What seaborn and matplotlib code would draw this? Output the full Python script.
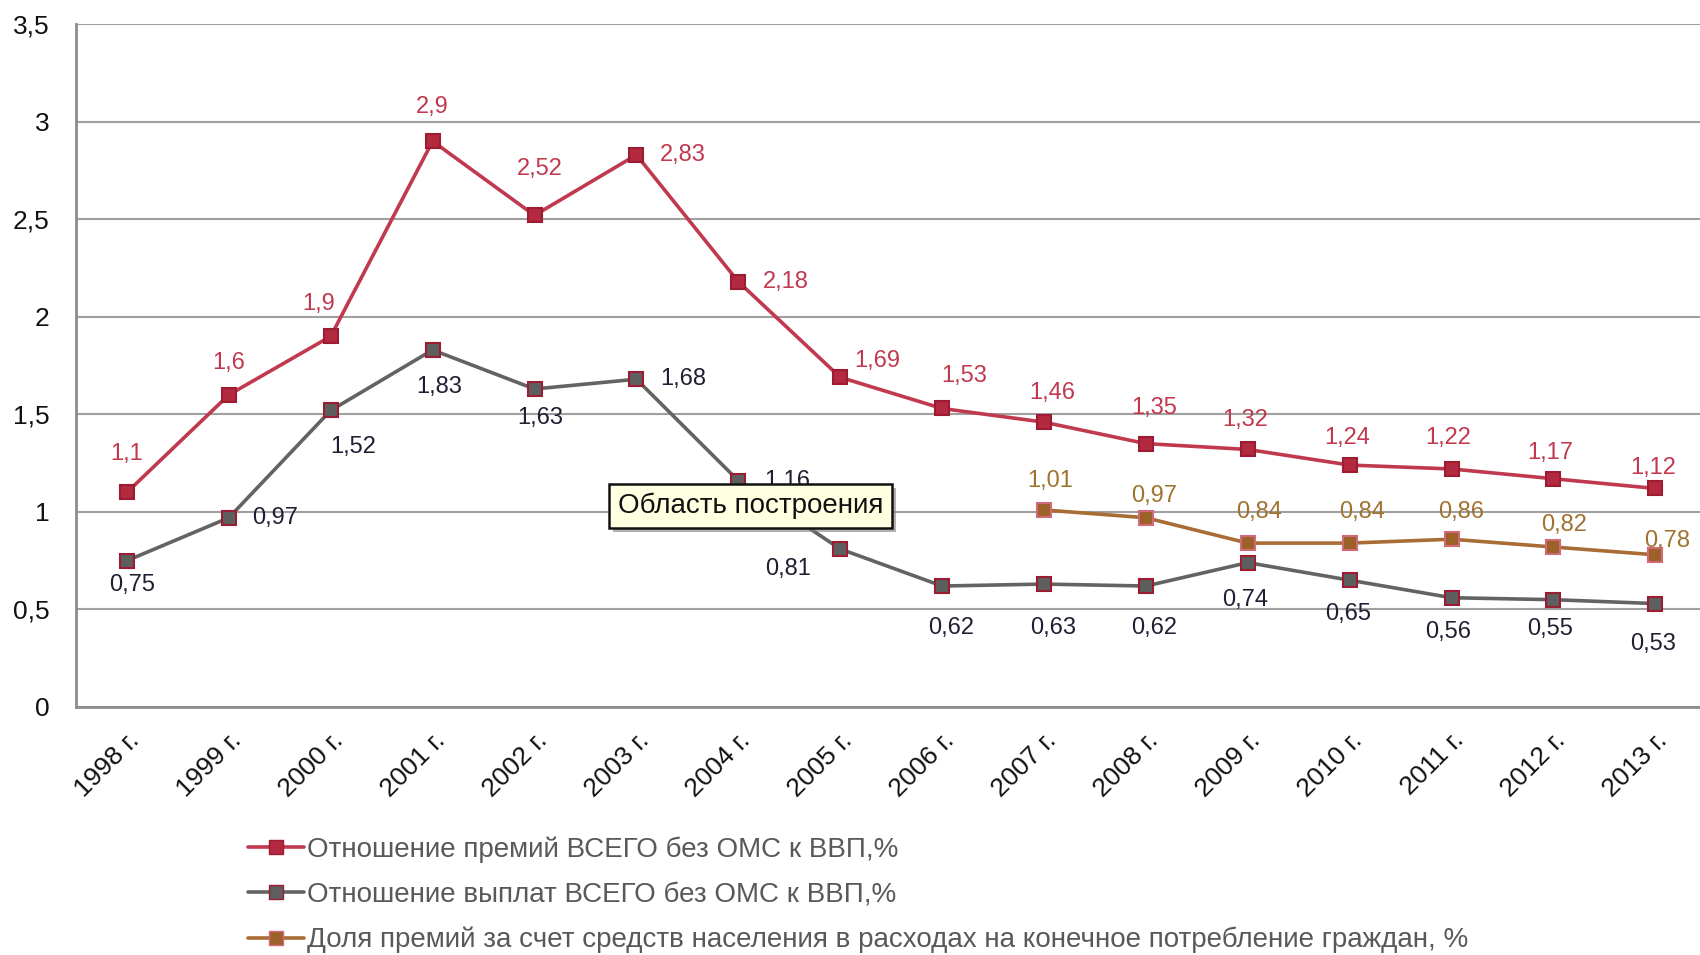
import matplotlib
matplotlib.use("Agg")
import matplotlib.pyplot as plt
import matplotlib.patheffects as pe
import seaborn as sns
import numpy as np
import pandas as pd
from matplotlib.lines import Line2D

# data
years = ["1998 г.", "1999 г.", "2000 г.", "2001 г.", "2002 г.", "2003 г.", "2004 г.", "2005 г.",
         "2006 г.", "2007 г.", "2008 г.", "2009 г.", "2010 г.", "2011 г.", "2012 г.", "2013 г."]
premiums = [1.1, 1.6, 1.9, 2.9, 2.52, 2.83, 2.18, 1.69, 1.53, 1.46, 1.35, 1.32, 1.24, 1.22, 1.17, 1.12]
payouts = [0.75, 0.97, 1.52, 1.83, 1.63, 1.68, 1.16, 0.81, 0.62, 0.63, 0.62, 0.74, 0.65, 0.56, 0.55, 0.53]
share_years = years[9:]
share = [1.01, 0.97, 0.84, 0.84, 0.86, 0.82, 0.78]

names = ["Отношение премий ВСЕГО без ОМС к ВВП,%",
         "Отношение выплат ВСЕГО без ОМС к ВВП,%",
         "Доля премий за счет средств населения в расходах на конечное потребление граждан, %"]
y_ticks = [0, 0.5, 1, 1.5, 2, 2.5, 3, 3.5]

# label offsets in pixels (dx, dy), screen up positive
off_prem = [(0, 38), (0, 32), (-12, 32), (0, 34), (5, 46), (46, 0), (48, 0), (37, 16), (22, 32),
            (8, 29), (8, 36), (-3, 29), (-2, 27), (-3, 31), (-3, 26), (-2, 20)]
off_pay = [(5, -24), (46, 0), (22, -37), (7, -37), (6, -29), (47, 0), (49, 0), (-52, -20), (9, -42),
           (9, -44), (8, -42), (-3, -37), (-2, -34), (-3, -34), (-3, -29), (-2, -40)]
off_share = [(6, 29), (8, 22), (11, 31), (12, 31), (10, 27), (11, 22), (12, 14)]

red_line, red_face, red_edge = "#c0394e", "#b32a40", "#9c1c31"
grey_line, grey_face = "#636363", "#5e5e5e"
brown_line, brown_face = "#a86c34", "#9c6129"
red_text, grey_text, brown_text = "#c0394e", "#1f1f33", "#a0722f"

sns.set_style("white")
plt.rcParams["font.family"] = ["Liberation Sans", "DejaVu Sans"]

fig = plt.figure(figsize=(17, 9.55), dpi=100)
ax = fig.add_axes([0.0447, 0.2597, 0.959, 0.715])

x_all = np.arange(len(years))
x_share = np.arange(9, 9 + len(share))

df = pd.DataFrame({"x": x_all, "prem": premiums, "pay": payouts})
df_s = pd.DataFrame({"x": x_share, "share": share})

sns.lineplot(data=df, x="x", y="prem", ax=ax, color=red_line, lw=2.6, marker="s", ms=10,
             markerfacecolor=red_face, markeredgecolor=red_edge, markeredgewidth=1.5, zorder=5)
sns.lineplot(data=df, x="x", y="pay", ax=ax, color=grey_line, lw=2.6, marker="s", ms=10,
             markerfacecolor=grey_face, markeredgecolor=red_edge, markeredgewidth=1.5, zorder=4)
sns.lineplot(data=df_s, x="x", y="share", ax=ax, color=brown_line, lw=2.6, marker="s", ms=10,
             markerfacecolor=brown_face, markeredgecolor="#d06a78", markeredgewidth=1.5, zorder=4)

def fmt(v):
    return ("%g" % v).replace(".", ",")

def put_labels(xs, vals, offs, col):
    for xi, v, (dx, dy) in zip(xs, vals, offs):
        ax.annotate(fmt(v), (xi, v), xytext=(dx * 0.72, dy * 0.72), textcoords="offset points",
                    ha="center", va="center", fontsize=17, color=col, zorder=6)

put_labels(x_all, premiums, off_prem, red_text)
put_labels(x_all, payouts, off_pay, grey_text)
put_labels(x_share, share, off_share, brown_text)

ax.set_xlim(-0.5, 15.5)
ax.set_ylim(0, 3.5)
ax.set_yticks(y_ticks)
ax.set_yticklabels([fmt(t) for t in y_ticks], fontsize=19, color="#111111")
ax.set_xticks(x_all)
ax.set_xticklabels(years, rotation=45, ha="right", rotation_mode="anchor", fontsize=19, color="#111111")
ax.set_xticks(np.arange(-0.5, 16, 1), minor=True)
ax.tick_params(axis="x", which="major", length=0, pad=15)
ax.tick_params(axis="x", which="minor", length=7, width=1.5, color="#8c8c8c", direction="out")
ax.tick_params(axis="y", length=7, width=1.5, color="#8c8c8c", direction="out", pad=12)
ax.set_xlabel("")
ax.set_ylabel("")

ax.yaxis.grid(True, color="#a0a0a0", lw=1.5)
ax.set_axisbelow(True)
for s in ["top", "right"]:
    ax.spines[s].set_visible(False)
for s in ["left", "bottom"]:
    ax.spines[s].set_color("#8c8c8c")
    ax.spines[s].set_linewidth(2)

# tooltip box from the screenshot, with a soft shadow
tip = ax.text(6.12, 1.03, "Область построения", fontsize=20, color="#111111", ha="center",
              va="center", zorder=10,
              bbox=dict(boxstyle="square,pad=0.32", fc="#ffffe1", ec="#111111", lw=1.8))
tip.get_bbox_patch().set_path_effects([
    pe.withSimplePatchShadow(offset=(3, -3), shadow_rgbFace="#808080", alpha=0.6)])

handles = [
    Line2D([], [], color=red_line, lw=2.6, marker="s", ms=10, mfc=red_face, mec=red_edge),
    Line2D([], [], color=grey_line, lw=2.6, marker="s", ms=10, mfc=grey_face, mec=red_edge),
    Line2D([], [], color=brown_line, lw=2.6, marker="s", ms=10, mfc=brown_face, mec="#d06a78"),
]
fig.legend(handles, names, loc="upper left", bbox_to_anchor=(0.146, 0.124), frameon=False,
           fontsize=20, labelcolor="#595959", handlelength=2.0, handletextpad=0.1,
           labelspacing=0.68, borderaxespad=0, borderpad=0)

fig.savefig("out.png", dpi=100)
